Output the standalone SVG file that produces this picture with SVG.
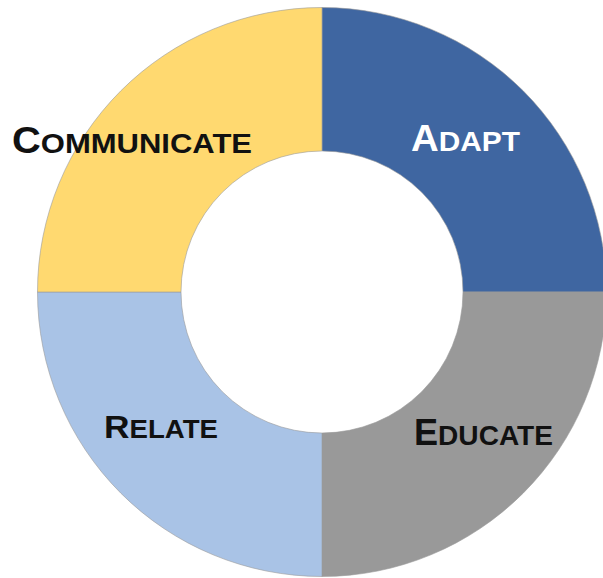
<svg xmlns="http://www.w3.org/2000/svg" width="603" height="578" viewBox="0 0 603 578">
<style>
.seg{stroke:#9a9a9a;stroke-width:0.6}
.lbl{font-family:"Liberation Sans",Arial,sans-serif;font-weight:bold}
.big{font-size:36px}
.sm{font-size:28px}
</style>
<rect width="603" height="578" fill="#ffffff"/>
<g id="adapt">
<path class="seg" fill="#3f66a1" d="M322 7.5 A284.5 284.5 0 0 1 606.5 292 L463 292 A141 141 0 0 0 322 151 Z"/>
<text class="lbl" fill="#ffffff" x="411" y="151" textLength="109" lengthAdjust="spacingAndGlyphs"><tspan class="big">A</tspan><tspan class="sm">DAPT</tspan></text>
</g>
<g id="educate">
<path class="seg" fill="#999999" d="M606.5 292 A284.5 284.5 0 0 1 322 576.5 L322 433 A141 141 0 0 0 463 292 Z"/>
<text class="lbl" fill="#111111" x="414" y="445" textLength="139" lengthAdjust="spacingAndGlyphs"><tspan class="big">E</tspan><tspan class="sm">DUCATE</tspan></text>
</g>
<g id="relate">
<path class="seg" fill="#a9c3e6" d="M322 576.5 A284.5 284.5 0 0 1 37.5 292 L181 292 A141 141 0 0 0 322 433 Z"/>
<text class="lbl" fill="#111111" x="104" y="438" textLength="114" lengthAdjust="spacingAndGlyphs"><tspan style="font-size:32px">R</tspan><tspan style="font-size:25px">ELATE</tspan></text>
</g>
<g id="communicate">
<path class="seg" fill="#ffd970" d="M37.5 292 A284.5 284.5 0 0 1 322 7.5 L322 151 A141 141 0 0 0 181 292 Z"/>
<text class="lbl" fill="#111111" x="12" y="153" textLength="240" lengthAdjust="spacingAndGlyphs"><tspan class="big">C</tspan><tspan class="sm">OMMUNICATE</tspan></text>
</g>
<g id="connectors"></g>
</svg>
